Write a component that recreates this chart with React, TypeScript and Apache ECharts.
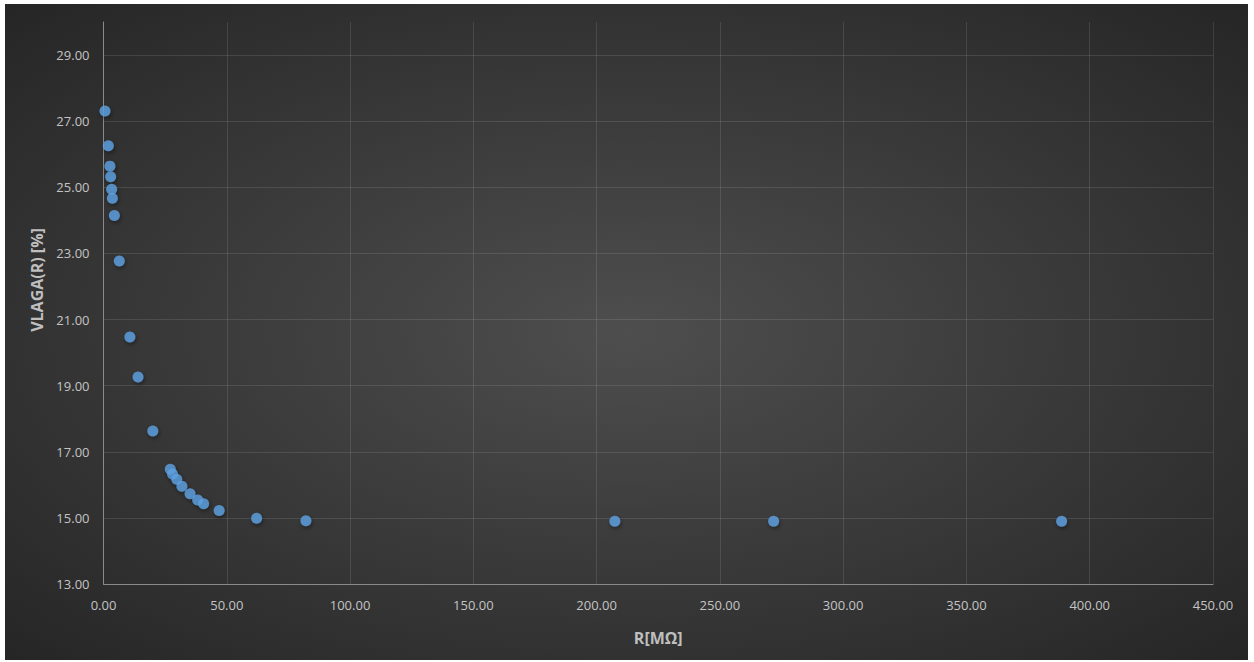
import React, { useEffect, useRef } from "react";
import * as echarts from "echarts";

const rValues: number[] = [0.6, 1.95, 2.6, 2.9, 3.3, 3.6, 4.4, 6.4, 10.7, 14.0, 20.0, 27.1, 28.0, 29.7, 31.8, 35.1, 38.2, 40.6, 46.9, 62.1, 82.1, 207.4, 271.8, 388.6];
const vlagaValues: number[] = [27.31, 26.26, 25.64, 25.32, 24.94, 24.67, 24.15, 22.77, 20.47, 19.26, 17.63, 16.47, 16.33, 16.17, 15.96, 15.73, 15.54, 15.43, 15.22, 14.99, 14.91, 14.9, 14.9, 14.9];

const xName = "R[MΩ]";
const yName = "VLAGA(R) [%]";

export default function App() {
  const ref = useRef<HTMLDivElement>(null);
  useEffect(() => {
    document.body.style.margin = "0";
    const chart = echarts.init(ref.current!, null, { renderer: "svg" });
    const data = rValues.map((r, i) => [r, vlagaValues[i]]);
    const font = "'Open Sans', 'Noto Sans', sans-serif";
    chart.setOption({
      animation: false,
      backgroundColor: {
        type: "radial",
        x: 0.5,
        y: 0.5,
        r: 0.75,
        colorStops: [
          { offset: 0, color: "#4e4e4e" },
          { offset: 1, color: "#232323" },
        ],
      },
      grid: { left: 98.5, top: 18, right: 35, bottom: 76, containLabel: false },
      xAxis: {
        type: "value",
        min: 0,
        max: 450,
        interval: 50,
        name: xName,
        nameLocation: "middle",
        nameGap: 46,
        nameTextStyle: { color: "#bfbfbf", fontSize: 16, fontWeight: "bold", fontFamily: font },
        axisLine: { show: true, lineStyle: { color: "#8a8a8a", width: 1 } },
        axisTick: { show: false },
        axisLabel: {
          color: "#c4c4c4",
          fontSize: 13,
          fontFamily: font,
          margin: 14,
          formatter: (v: number) => v.toFixed(2),
        },
        splitLine: { show: true, showMinLine: false, lineStyle: { color: "rgba(255,255,255,0.11)", width: 1 } },
      },
      yAxis: {
        type: "value",
        min: 13,
        max: 30,
        interval: 2,
        axisLine: { show: true, lineStyle: { color: "#8a8a8a", width: 1 } },
        axisTick: { show: false },
        axisLabel: {
          color: "#c4c4c4",
          fontSize: 13,
          fontFamily: font,
          margin: 14,
          showMaxLabel: false,
          formatter: (v: number) => (v === 30 ? "" : v.toFixed(2)),
        },
        splitLine: {
          show: true,
          showMinLine: false,
          showMaxLine: false,
          lineStyle: { color: "rgba(255,255,255,0.11)", width: 1 },
        },
      },
      graphic: [
        {
          type: "text",
          x: 32,
          y: 276,
          rotation: Math.PI / 2,
          style: {
            text: yName,
            fill: "#bfbfbf",
            font: `bold 16px ${font}`,
            align: "center",
            verticalAlign: "middle",
          },
        },
      ],
      series: [
        {
          type: "scatter",
          data,
          symbol: "circle",
          symbolSize: 11,
          itemStyle: {
            color: "#5ea3e3",
            shadowColor: "rgba(0,0,0,0.5)",
            shadowBlur: 4,
            shadowOffsetX: 1,
            shadowOffsetY: 2,
          },
        },
      ],
    });
    return () => chart.dispose();
  }, []);
  return (
    <div style={{ paddingLeft: 5, paddingTop: 4 }}>
      <div ref={ref} style={{ width: 1243, height: 656 }} />
    </div>
  );
}
